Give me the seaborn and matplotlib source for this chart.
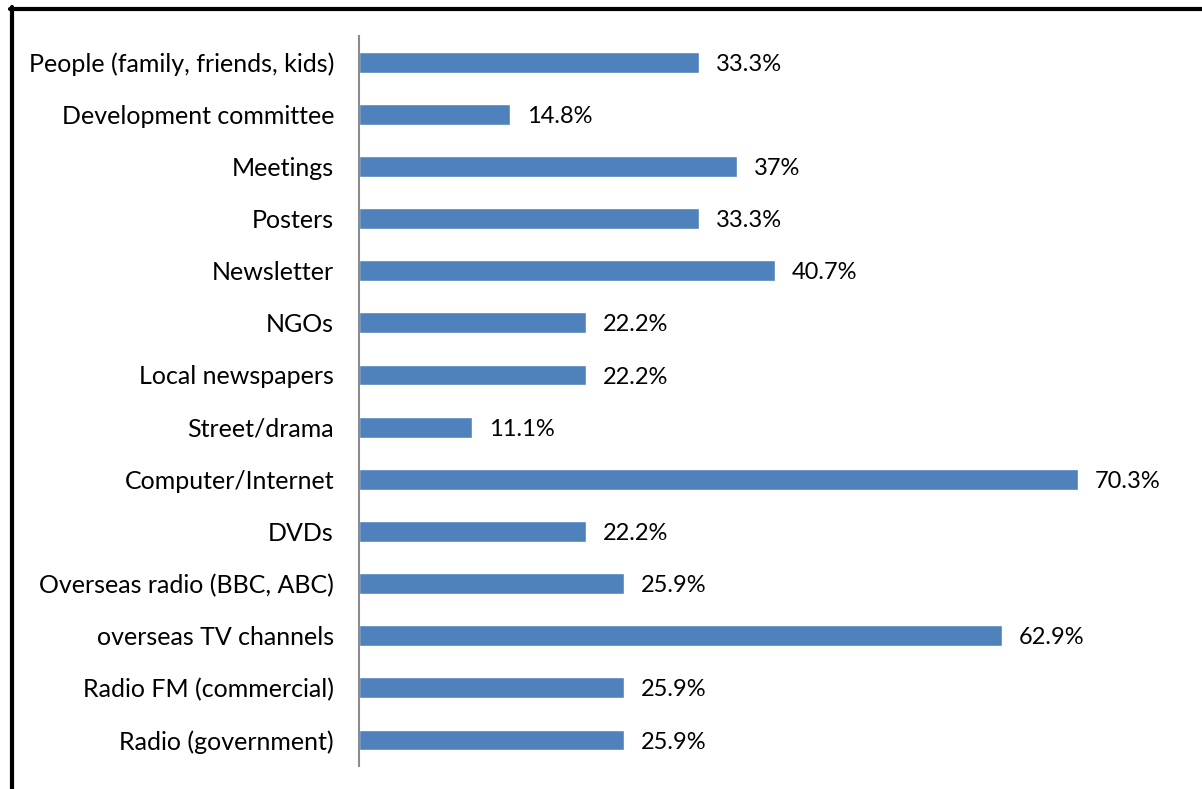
import matplotlib
matplotlib.use("Agg")
import matplotlib.pyplot as plt
import seaborn as sns
import pandas as pd
from matplotlib.lines import Line2D

categories = [
    "People (family, friends, kids)",
    "Development committee",
    "Meetings",
    "Posters",
    "Newsletter",
    "NGOs",
    "Local newspapers",
    "Street/drama",
    "Computer/Internet",
    "DVDs",
    "Overseas radio (BBC, ABC)",
    "overseas TV channels",
    "Radio FM (commercial)",
    "Radio (government)",
]
values = [33.3, 14.8, 37.0, 33.3, 40.7, 22.2, 22.2, 11.1, 70.3, 22.2, 25.9, 62.9, 25.9, 25.9]
value_labels = ["33.3%", "14.8%", "37%", "33.3%", "40.7%", "22.2%", "22.2%", "11.1%",
                "70.3%", "22.2%", "25.9%", "62.9%", "25.9%", "25.9%"]

df = pd.DataFrame({"category": categories, "value": values})

sns.set_theme(style="white")
plt.rcParams["font.family"] = ["Lato", "DejaVu Sans"]

W, H = 1202, 789
fig = plt.figure(figsize=(W / 100, H / 100), dpi=100)
ax_left, ax_right = 359, 1177
ax_top, ax_bottom = 36, 766
ax = fig.add_axes([ax_left / W, 1 - ax_bottom / H, (ax_right - ax_left) / W, (ax_bottom - ax_top) / H])

sns.barplot(data=df, x="value", y="category", order=categories, orient="h",
            color="#4F81BD", saturation=1, width=0.4, ax=ax)

ax.set_xlim(0, 80)
ax.set_ylim(len(categories) - 0.5, -0.5)
ax.set_xlabel("")
ax.set_ylabel("")
ax.set_xticks([])
for s in ["top", "right", "bottom"]:
    ax.spines[s].set_visible(False)
ax.spines["left"].set_color("#8C8C8C")
ax.spines["left"].set_linewidth(1.5)
ax.tick_params(axis="y", length=0, pad=18, labelsize=18, labelcolor="black")

for i, (v, lab) in enumerate(zip(values, value_labels)):
    ax.annotate(lab, xy=(v, i), xytext=(12, -1.5), textcoords="offset points",
                va="center", ha="left", fontsize=17, color="black")

# outer frame lines (top and left)
fig.add_artist(Line2D([10 / W, 1.0], [1 - 8.5 / H, 1 - 8.5 / H], transform=fig.transFigure,
                      color="black", linewidth=3))
fig.add_artist(Line2D([11.5 / W, 11.5 / W], [1 - 7 / H, 0], transform=fig.transFigure,
                      color="black", linewidth=3))

fig.savefig("out.png", dpi=100)
